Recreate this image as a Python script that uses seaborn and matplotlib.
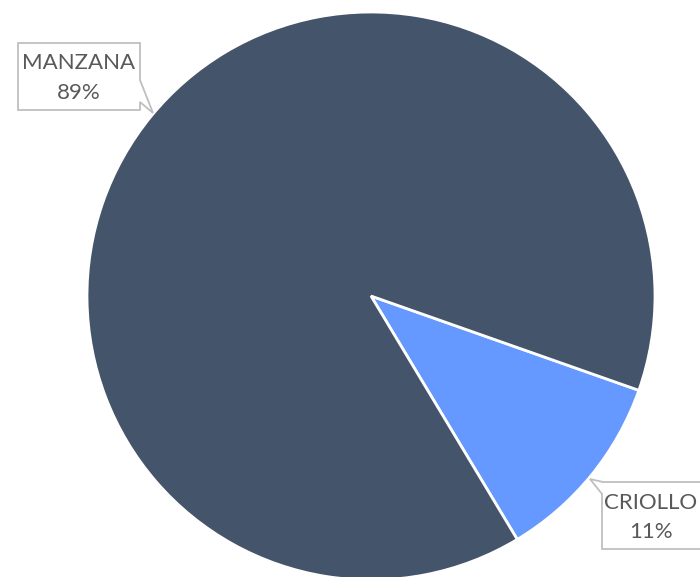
import matplotlib
matplotlib.use("Agg")
import matplotlib.pyplot as plt
import seaborn as sns
from matplotlib.patches import Polygon

categories = ["CRIOLLO", "MANZANA"]
values = [11, 89]
colors = ["#6699FF", "#44546A"]

sns.set_style("white")
plt.rcParams["font.family"] = ["Lato", "DejaVu Sans"]

W, H = 700, 577
fig = plt.figure(figsize=(W / 100, H / 100), dpi=100)
ax = fig.add_axes([0, 0, 1, 1])

cx, cy, r = 371, H - 296, 284
ax.pie(values, colors=colors, startangle=-19.4, counterclock=False,
       center=(cx, cy), radius=r,
       wedgeprops=dict(edgecolor="white", linewidth=2.0))
ax.set_xlim(0, W)
ax.set_ylim(0, H)
ax.set_aspect("equal")
ax.axis("off")

def P(pts):
    return [(x, H - y) for x, y in pts]

# MANZANA callout (pointer on right-bottom)
man = P([(18, 43), (140, 43), (140, 80), (153, 113), (140, 102), (140, 110), (18, 110)])
ax.add_patch(Polygon(man, closed=True, facecolor="white", edgecolor="#BFBFBF", linewidth=1.3, zorder=5))
# CRIOLLO callout (pointer on left-top)
cri = P([(602, 482), (712, 482), (712, 549), (602, 549), (602, 494), (590, 479), (603, 482)])
ax.add_patch(Polygon(cri, closed=True, facecolor="white", edgecolor="#BFBFBF", linewidth=1.3, zorder=5))

tc = "#595959"
fs = 16
labels = {"MANZANA": (79, 63, 93), "CRIOLLO": (651, 503, 532)}
for cat, v in zip(categories, values):
    x, y1, y2 = labels[cat]
    ax.text(x, H - y1, cat, ha="center", va="center", fontsize=fs, color=tc, zorder=6)
    ax.text(x, H - y2, f"{v}%", ha="center", va="center", fontsize=fs, color=tc, zorder=6)

fig.savefig("out.png", dpi=100)
